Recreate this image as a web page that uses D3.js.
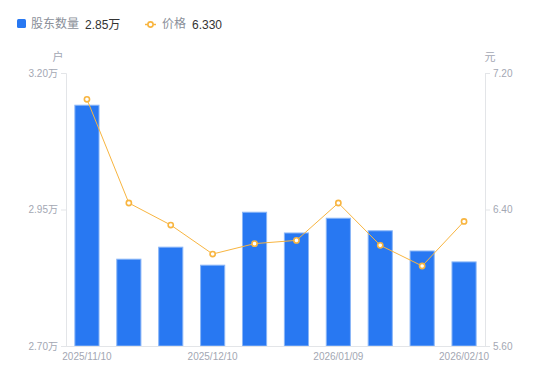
<!DOCTYPE html>
<html><head><meta charset="utf-8">
<script src="https://cdn.jsdelivr.net/npm/d3@7/dist/d3.min.js"></script>
<style>body{margin:0;background:#fff;}svg{display:block;font-family:"Noto Sans CJK SC","Noto Sans",sans-serif;}</style>
</head><body>
<svg id="c" width="550" height="381"></svg>
<script>
const dates = ["2025/11/10","2025/11/20","2025/11/30","2025/12/10","2025/12/20","2025/12/31","2026/01/09","2026/01/20","2026/01/31","2026/02/10"];
const holders = [3.141,2.859,2.881,2.848,2.945,2.907,2.934,2.911,2.874,2.854];
const prices = [7.046,6.438,6.309,6.139,6.200,6.219,6.438,6.190,6.069,6.330];
const leftTicks = [2.70,2.95,3.20];
const rightTicks = [5.60,6.40,7.20];
const shownDates = ["2025/11/10","2025/12/10","2026/01/09","2026/02/10"];

const svg = d3.select("#c");
const m = {l:66, r:485, t:73, b:346};
const x = d3.scaleBand().domain(dates).range([m.l,m.r]).paddingInner(0.4).paddingOuter(0.2);
const yL = d3.scaleLinear().domain([2.70,3.20]).range([m.b,m.t]);
const yR = d3.scaleLinear().domain([5.60,7.20]).range([m.b,m.t]);
const axisColor = "#e3e5e8", labelColor = "#a3a7b3";
const numFont = "'Liberation Sans','Noto Sans CJK SC',sans-serif";

// bars
svg.append("g").selectAll("rect").data(holders).join("rect")
  .attr("x",(d,i)=>x(dates[i])+0.5).attr("y",d=>yL(d))
  .attr("width",x.bandwidth()-1).attr("height",d=>m.b-yL(d))
  .attr("fill","#2878f2").attr("stroke","#8ab6f7").attr("stroke-width",1);

// axes
const gL = svg.append("g").attr("transform",`translate(${m.l},0)`)
  .call(d3.axisLeft(yL).tickValues(leftTicks).tickSize(5).tickPadding(3).tickFormat(d=>d.toFixed(2)+"万"));
const gR = svg.append("g").attr("transform",`translate(${m.r},0)`)
  .call(d3.axisRight(yR).tickValues(rightTicks).tickSize(5).tickPadding(3).tickFormat(d=>d.toFixed(2)));
const gB = svg.append("g").attr("transform",`translate(0,${m.b})`)
  .call(d3.axisBottom(x).tickValues(shownDates).tickSize(0).tickPadding(7));
[gL,gR,gB].forEach(g=>{
  g.selectAll("path").attr("stroke",axisColor);
  g.selectAll("line").attr("stroke",axisColor);
  g.selectAll("text").attr("fill",labelColor).style("font-size","10px").style("font-family",numFont);
});
gB.select("path.domain").attr("d",`M${m.l-5},0.5H${m.r}`);

// units
svg.append("text").attr("x",58).attr("y",61).attr("text-anchor","middle").attr("fill",labelColor).style("font-size","11px").text("户");
svg.append("text").attr("x",490).attr("y",61).attr("text-anchor","middle").attr("fill",labelColor).style("font-size","11px").text("元");

// line
const cx = d=>x(d)+x.bandwidth()/2;
const orange = "#f8b540";
svg.append("path").datum(prices)
  .attr("d",d3.line().x((d,i)=>cx(dates[i])).y(d=>yR(d)))
  .attr("fill","none").attr("stroke",orange).attr("stroke-width",1);
svg.append("g").selectAll("circle").data(prices).join("circle")
  .attr("cx",(d,i)=>cx(dates[i])).attr("cy",d=>yR(d)).attr("r",2.6)
  .attr("fill","#fff").attr("stroke",orange).attr("stroke-width",1.6);

// legend
const lg = svg.append("g");
lg.append("rect").attr("x",17).attr("y",19).attr("width",9).attr("height",9).attr("rx",1.5).attr("fill","#2878f2");
lg.append("text").attr("x",31).attr("y",28).attr("fill","#8a8f99").style("font-size","12px").text("股东数量");
lg.append("text").attr("x",85).attr("y",28.5).attr("fill","#333").style("font-size","12px").style("font-family",numFont).text(holders[holders.length-1].toFixed(2)+"万");
lg.append("line").attr("x1",145).attr("x2",156).attr("y1",24.5).attr("y2",24.5).attr("stroke",orange).attr("stroke-width",1.5);
lg.append("circle").attr("cx",150.5).attr("cy",24.5).attr("r",2.6).attr("fill","#fff").attr("stroke",orange).attr("stroke-width",1.6);
lg.append("text").attr("x",162).attr("y",28).attr("fill","#8a8f99").style("font-size","12px").text("价格");
lg.append("text").attr("x",192).attr("y",28.5).attr("fill","#333").style("font-size","12px").style("font-family",numFont).text(prices[prices.length-1].toFixed(3));
</script>
</body></html>
